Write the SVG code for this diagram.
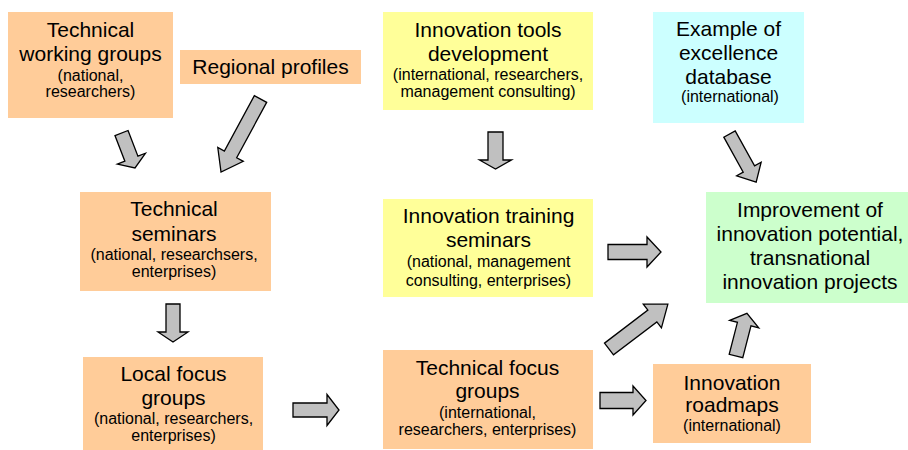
<svg xmlns="http://www.w3.org/2000/svg" width="908" height="450" viewBox="0 0 908 450">
<style>
.big{font-family:"Liberation Sans",Arial,sans-serif;font-size:21px;fill:#000;text-anchor:middle}
.small{font-family:"Liberation Sans",Arial,sans-serif;font-size:16px;fill:#000;text-anchor:middle}
.or{fill:#FFCC99}
.ye{fill:#FFFF99}
.cy{fill:#CCFFFF}
.gr{fill:#CCFFCC}
.arr{fill:#C0C0C0;stroke:#000;stroke-width:1.3;stroke-linejoin:miter}
</style>
<rect width="908" height="450" fill="#fff"/>
<g id="twg">
<rect class="or" x="8" y="12" width="165" height="106"/>
<text class="big" x="90.5" y="37">Technical</text>
<text class="big" x="90.5" y="61">working groups</text>
<text class="small" x="90.5" y="81">(national,</text>
<text class="small" x="90.5" y="97">researchers)</text>
</g>
<g id="regional">
<rect class="or" x="180" y="50" width="181" height="34"/>
<text class="big" x="270.5" y="73.5">Regional profiles</text>
</g>
<g id="tools">
<rect class="ye" x="383" y="12" width="210" height="98"/>
<text class="big" x="488" y="37">Innovation tools</text>
<text class="big" x="488" y="61">development</text>
<text class="small" x="488" y="80">(international, researchers,</text>
<text class="small" x="488" y="97">management consulting)</text>
</g>
<g id="excellence">
<rect class="cy" x="653" y="12" width="151" height="111"/>
<text class="big" x="728.5" y="36">Example of</text>
<text class="big" x="728.5" y="60">excellence</text>
<text class="big" x="728.5" y="84">database</text>
<text class="small" x="730" y="102">(international)</text>
</g>
<g id="tseminars">
<rect class="or" x="80" y="192" width="191" height="99"/>
<text class="big" x="174" y="216">Technical</text>
<text class="big" x="174" y="241">seminars</text>
<text class="small" x="174" y="260">(national, researchsers,</text>
<text class="small" x="174" y="277">enterprises)</text>
</g>
<g id="training">
<rect class="ye" x="383" y="199" width="210" height="98"/>
<text class="big" x="488.5" y="223">Innovation training</text>
<text class="big" x="488.5" y="247">seminars</text>
<text class="small" x="488.5" y="267">(national, management</text>
<text class="small" x="488.5" y="286">consulting, enterprises)</text>
</g>
<g id="improvement">
<rect class="gr" x="706" y="192" width="202" height="111"/>
<text class="big" x="810" y="217">Improvement of</text>
<text class="big" x="810" y="241">innovation potential,</text>
<text class="big" x="810" y="265">transnational</text>
<text class="big" x="810" y="288.5">innovation projects</text>
</g>
<g id="localfocus">
<rect class="or" x="83" y="357" width="180" height="93"/>
<text class="big" x="173.5" y="381">Local focus</text>
<text class="big" x="173.5" y="405">groups</text>
<text class="small" x="173.5" y="424">(national, researchers,</text>
<text class="small" x="173.5" y="441">enterprises)</text>
</g>
<g id="techfocus">
<rect class="or" x="383" y="350" width="210" height="99"/>
<text class="big" x="487.5" y="374.5">Technical focus</text>
<text class="big" x="487.5" y="397.5">groups</text>
<text class="small" x="487.5" y="417.5">(international,</text>
<text class="small" x="487.5" y="435">researchers, enterprises)</text>
</g>
<g id="roadmaps">
<rect class="or" x="653" y="364" width="158" height="79"/>
<text class="big" x="732" y="389.5">Innovation</text>
<text class="big" x="732" y="412">roadmaps</text>
<text class="small" x="732" y="431">(international)</text>
</g>
<g id="connectors">
<path class="arr" transform="translate(121.5,133) rotate(68.9)" d="M0,-7 L27.5,-7 L27.5,-15 L37.5,0 L27.5,15 L27.5,7 L0,7 Z"/>
<path class="arr" transform="translate(260.5,99) rotate(118.4)" d="M0,-7 L63,-7 L63,-14.5 L83,0 L63,14.5 L63,7 L0,7 Z"/>
<path class="arr" transform="translate(495.5,132) rotate(90)" d="M0,-7.5 L28,-7.5 L28,-16 L37,0 L28,16 L28,7.5 L0,7.5 Z"/>
<path class="arr" transform="translate(729.5,134) rotate(61)" d="M0,-6.5 L40,-6.5 L40,-14 L55,0 L40,14 L40,6.5 L0,6.5 Z"/>
<path class="arr" transform="translate(173,304) rotate(90)" d="M0,-7 L28,-7 L28,-15 L38,0 L28,15 L28,7 L0,7 Z"/>
<path class="arr" transform="translate(608,252)" d="M0,-7.5 L39,-7.5 L39,-15 L53,0 L39,15 L39,7.5 L0,7.5 Z"/>
<path class="arr" transform="translate(293,410)" d="M0,-7 L34,-7 L34,-15.5 L46,0 L34,15.5 L34,7 L0,7 Z"/>
<path class="arr" transform="translate(609,349) rotate(-37.3)" d="M0,-7.4 L54.5,-7.4 L54.5,-15 L74,0 L54.5,15 L54.5,7.4 L0,7.4 Z"/>
<path class="arr" transform="translate(600,400.5)" d="M0,-8 L33,-8 L33,-14.5 L46,0 L33,14.5 L33,8 L0,8 Z"/>
<path class="arr" transform="translate(736,356) rotate(-75.6)" d="M0,-7 L33,-7 L33,-15 L44,0 L33,15 L33,7 L0,7 Z"/>
</g>
</svg>
